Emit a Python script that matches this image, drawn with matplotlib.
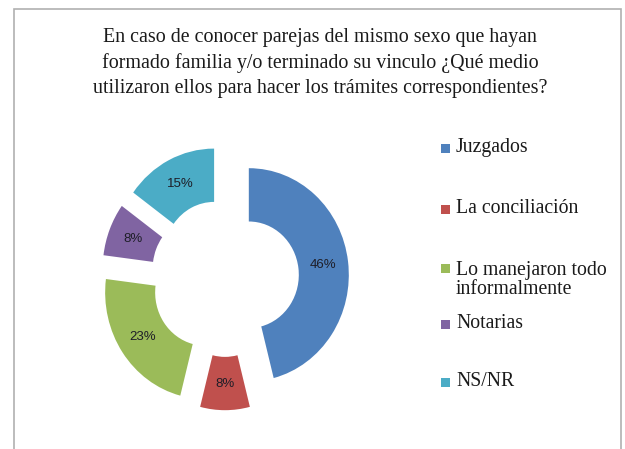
import numpy as np
import matplotlib
matplotlib.use("Agg")
from matplotlib import pyplot as plt
from matplotlib.patches import Rectangle

# data
categories = ["Juzgados", "La conciliación", "Lo manejaron todo\ninformalmente", "Notarias", "NS/NR"]
percents = [46, 8, 23, 8, 15]
colors = ["#4F81BD", "#C0504D", "#9BBB59", "#8064A2", "#4BACC6"]
title = ("En caso de conocer parejas del mismo sexo que hayan\n"
         "formado familia y/o terminado su vinculo ¿Qué medio\n"
         "utilizaron ellos para hacer los trámites correspondientes?")

W, H = 625, 449
fig = plt.figure(figsize=(W / 100, H / 100), dpi=100)
ax = fig.add_axes([0, 0, 1, 1])

wedges, texts, autotexts = ax.pie(
    percents, colors=colors, startangle=90, counterclock=False,
    explode=[0.24] * len(percents), radius=1.0,
    wedgeprops=dict(width=0.5, linewidth=0),
    autopct="%.0f%%", pctdistance=0.75,
    textprops=dict(fontsize=9.5, family="Liberation Sans", color="#1e1e28"))

# the picture is a bit taller than wide, so no equal aspect
ax.set_aspect("auto")
cx, cy = 225, 278        # pixel centre of the ring
sx, sy = 100.0, 106.6    # pixels per unit
ax.set_xlim(-cx / sx, (W - cx) / sx)
ax.set_ylim(-(H - cy) / sy, cy / sy)
ax.axis("off")

# frame
fig.patches.append(Rectangle((14 / W, -0.05), 607 / W, 1 - 9 / H + 0.05,
                             transform=fig.transFigure, fill=False,
                             edgecolor="#b0b0b0", linewidth=1.2))

fig.text(320 / W, 1 - 63 / H, title, ha="center", va="center",
         fontsize=14.4, family="Liberation Serif", color="#1a1a1a",
         linespacing=1.45)

# legend, placed by hand like the original
marker_y = [148, 209, 268.5, 324, 382]
text_y = [148, 209, 280, 324, 382]
for lab, col, my, ty in zip(categories, colors, marker_y, text_y):
    fig.patches.append(Rectangle((441 / W, 1 - (my + 4.5) / H), 9 / W, 9 / H,
                                 transform=fig.transFigure, facecolor=col,
                                 edgecolor="none"))
    fig.text(456 / W, 1 - ty / H, lab, ha="left", va="center",
             fontsize=14.2, family="Liberation Serif", color="#1a1a1a",
             linespacing=1.0)

fig.savefig("out.png", dpi=100)
